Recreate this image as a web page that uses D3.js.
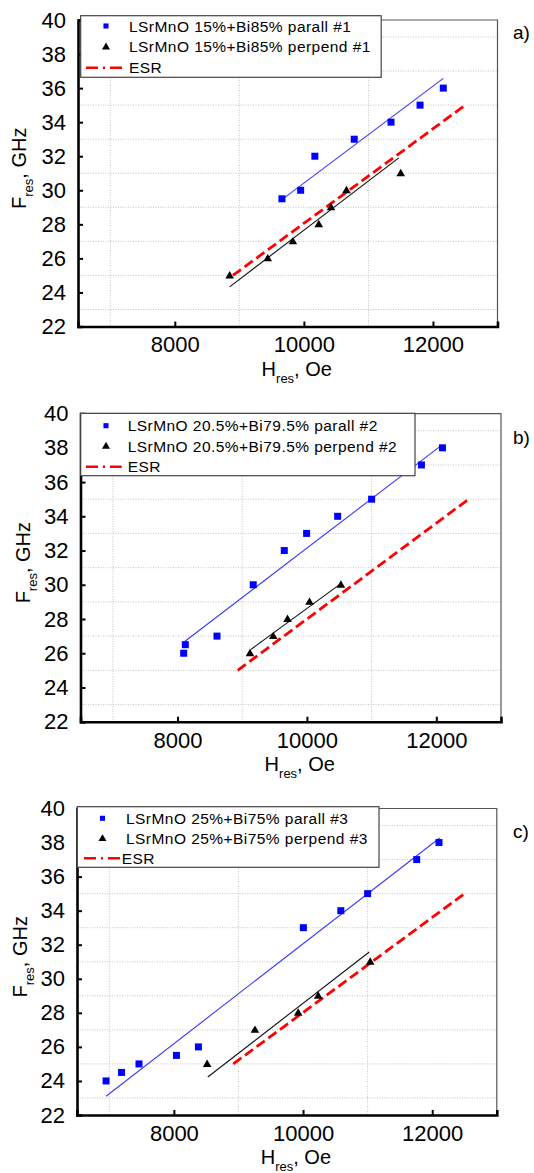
<!DOCTYPE html>
<html>
<head>
<meta charset="utf-8">
<script src="https://cdn.jsdelivr.net/npm/d3@7"></script>
<style>
  html, body { margin: 0; padding: 0; background: #fff; }
  svg { display: block; font-family: "Liberation Sans", Arial, sans-serif; }
</style>
</head>
<body>
<div id="vis"></div>
<script>
// values
let hTicks = [8000, 10000, 12000];
let fTicks = [22, 24, 26, 28, 30, 32, 34, 36, 38, 40];
let hGrid = [7000, 9000, 11000];
let fGrid = [23, 25, 27, 29, 31, 33, 35, 37, 39];

// panel a
let legendA = ['LSrMnO 15%+Bi85% parall #1', 'LSrMnO 15%+Bi85% perpend #1', 'ESR'];
let parA_H = [9660, 9950, 10170, 10780, 11350, 11800, 12160];
let parA_F = [29.5, 30, 32, 33, 34, 35, 36];
let perA_H = [8850, 9440, 9830, 10230, 10420, 10660, 11500];
let perA_F = [25, 26, 27, 28, 29, 30, 31];
let fitParA_H = [9670, 12160], fitParA_F = [29.48, 36.57];
let fitPerA_H = [8850, 11470], fitPerA_F = [24.33, 31.9];
let esrA_H = [8900, 12500], esrA_F = [25, 35];

// panel b
let legendB = ['LSrMnO 20.5%+Bi79.5% parall #2', 'LSrMnO 20.5%+Bi79.5% perpend #2', 'ESR'];
let parB_H = [8095, 8120, 8610, 9170, 9650, 9995, 10475, 11000, 11770, 12095];
let parB_F = [26, 26.5, 27, 30, 32, 33, 34, 35, 37, 38];
let perB_H = [9120, 9480, 9700, 10040, 10525];
let perB_F = [26, 27, 28, 29, 30];
let fitParB_H = [8105, 12095], fitParB_F = [26.67, 38.19];
let fitPerB_H = [9130, 10525], fitPerB_F = [26.21, 30.07];
let esrB_H = [8930, 12500], esrB_F = [25, 35];

// panel c
let legendC = ['LSrMnO 25%+Bi75% parall #3', 'LSrMnO 25%+Bi75% perpend #3', 'ESR'];
let parC_H = [6950, 7190, 7460, 8040, 8380, 10005, 10585, 11000, 11760, 12105];
let parC_F = [24, 24.5, 25, 25.5, 26, 33, 34, 35, 37, 38];
let perC_H = [8515, 9255, 9925, 10235, 11040];
let perC_F = [25, 27, 28, 29, 31];
let fitParC_H = [6950, 12115], fitParC_F = [23.1, 38.27];
let fitPerC_H = [8525, 11025], fitPerC_F = [24.23, 31.57];
let esrC_H = [8920, 12500], esrC_F = [25, 35];

let zip = (xs, ys) => xs.map((x, i) => [x, ys[i]]);

let panels = [
    {letter: 'a)', letterY: 39, top: 20, bottom: 326.5, left: 78, right: 497.5,
     box: [80.7, 15.7, 300.5, 61.6], rows: [26, 46.7, 67.7], markX: 106, esrLine: [86, 122.7], textX: 129, esrTextX: 129,
     titleX: 25.5, legend: legendA,
     par: zip(parA_H, parA_F), per: zip(perA_H, perA_F),
     fitPar: zip(fitParA_H, fitParA_F), fitPer: zip(fitPerA_H, fitPerA_F), esr: zip(esrA_H, esrA_F)},
    {letter: 'b)', letterY: 444, top: 413.6, bottom: 721.7, left: 80.5, right: 501,
     box: [80.7, 413.3, 334.3, 62.4], rows: [425.7, 446, 466.7], markX: 106, esrLine: [86, 121.7], textX: 127.7, esrTextX: 127.7,
     titleX: 29.5, legend: legendB,
     par: zip(parB_H, parB_F), per: zip(perB_H, perB_F),
     fitPar: zip(fitParB_H, fitParB_F), fitPer: zip(fitPerB_H, fitPerB_F), esr: zip(esrB_H, esrB_F)},
    {letter: 'c)', letterY: 838, top: 808.5, bottom: 1115, left: 77, right: 496.8,
     box: [77.3, 806.7, 301.7, 60.6], rows: [818.3, 838.3, 858.3], markX: 102.5, esrLine: [84, 120], textX: 126, esrTextX: 121.7,
     titleX: 27, legend: legendC,
     par: zip(parC_H, parC_F), per: zip(perC_H, perC_F),
     fitPar: zip(fitParC_H, fitParC_F), fitPer: zip(fitPerC_H, fitPerC_F), esr: zip(esrC_H, esrC_F)}
];

let svg = d3.select('#vis')
    .append('svg')
    .attr('width', 534)
    .attr('height', 1173);

let square = d3.symbol().type(d3.symbolSquare).size(49);
let triangle = d3.symbol().type(d3.symbolTriangle).size(32);

function drawPanel(p) {
    let x = d3.scaleLinear().domain([6500, 13000]).range([p.left, p.right]);
    let y = d3.scaleLinear().domain([22, 40]).range([p.bottom, p.top]);
    let g = svg.append('g');

    // dotted grid at the minor positions
    g.selectAll('.vg').data(hGrid).join('line')
        .attr('x1', d => x(d)).attr('x2', d => x(d))
        .attr('y1', p.top).attr('y2', p.bottom)
        .attr('stroke', '#c4c4c4').attr('stroke-width', 1).attr('stroke-dasharray', '1,1.5');
    g.selectAll('.hg').data(fGrid).join('line')
        .attr('y1', d => y(d)).attr('y2', d => y(d))
        .attr('x1', p.left).attr('x2', p.right)
        .attr('stroke', '#c4c4c4').attr('stroke-width', 1).attr('stroke-dasharray', '1,1.5');

    // frame: thin top/right
    g.append('path')
        .attr('d', `M${p.left},${p.top}H${p.right}V${p.bottom}`)
        .attr('fill', 'none').attr('stroke', '#555').attr('stroke-width', 1.2);

    // axes, ticks pointing inwards
    let xAxis = d3.axisBottom(x).tickValues(hTicks).tickSize(-5).tickPadding(10).tickFormat(d3.format('d'));
    let yAxis = d3.axisLeft(y).tickValues(fTicks).tickSize(-5).tickPadding(12).tickFormat(d3.format('d'));
    let gx = g.append('g').attr('transform', `translate(0,${p.bottom})`).call(xAxis);
    let gy = g.append('g').attr('transform', `translate(${p.left},0)`).call(yAxis);
    [gx, gy].forEach(a => {
        a.select('.domain').attr('stroke', '#000').attr('stroke-width', 2.6);
        a.selectAll('.tick line').attr('stroke', '#000').attr('stroke-width', 2);
        a.selectAll('.tick text').attr('fill', '#000')
            .style('font-size', '22px').style('font-family', '"Liberation Sans", Arial, sans-serif');
    });
    gx.selectAll('.tick text').attr('dy', '0.72em');

    // ESR line
    let line = d3.line().x(d => x(d[0])).y(d => y(d[1]));
    g.append('path').datum(p.esr).attr('d', line)
        .attr('fill', 'none').attr('stroke', '#ff0000').attr('stroke-width', 2.8)
        .attr('stroke-dasharray', '10,4.5');

    // fits
    g.append('path').datum(p.fitPar).attr('d', line)
        .attr('fill', 'none').attr('stroke', '#3a3aff').attr('stroke-width', 1.1);
    g.append('path').datum(p.fitPer).attr('d', line)
        .attr('fill', 'none').attr('stroke', '#111').attr('stroke-width', 1.1);

    // points
    g.selectAll('.sq').data(p.par).join('path')
        .attr('d', square)
        .attr('transform', d => `translate(${x(d[0])},${y(d[1])})`)
        .attr('fill', '#0000ff');
    g.selectAll('.tr').data(p.per).join('path')
        .attr('d', triangle)
        .attr('transform', d => `translate(${x(d[0])},${y(d[1]) + 0.5})`)
        .attr('fill', '#000');

    // legend
    let lg = g.append('g');
    lg.append('rect')
        .attr('x', p.box[0]).attr('y', p.box[1]).attr('width', p.box[2]).attr('height', p.box[3])
        .attr('fill', '#fff').attr('stroke', '#444').attr('stroke-width', 1.2);
    lg.append('path').attr('d', d3.symbol().type(d3.symbolSquare).size(26)())
        .attr('transform', `translate(${p.markX},${p.rows[0]})`).attr('fill', '#0000ff');
    lg.append('path').attr('d', d3.symbol().type(d3.symbolTriangle).size(28)())
        .attr('transform', `translate(${p.markX},${p.rows[1] + 0.5})`).attr('fill', '#000');
    lg.append('line')
        .attr('x1', p.esrLine[0]).attr('x2', p.esrLine[1])
        .attr('y1', p.rows[2]).attr('y2', p.rows[2])
        .attr('stroke', '#ff0000').attr('stroke-width', 2.6).attr('stroke-dasharray', '12,5,2,5');
    lg.selectAll('text').data(p.legend).join('text')
        .attr('x', (d, i) => i === 2 ? p.esrTextX : p.textX)
        .attr('y', (d, i) => p.rows[i] + 5.6)
        .style('font-size', '15.5px').style('letter-spacing', '0.45px')
        .attr('fill', '#000')
        .text(d => d);

    // axis titles
    let cy = (p.top + p.bottom) / 2 - 5;
    let yt = g.append('text')
        .attr('transform', `translate(${p.titleX},${cy}) rotate(-90)`)
        .attr('text-anchor', 'middle')
        .style('font-size', '20px').attr('fill', '#000');
    yt.append('tspan').text('F');
    yt.append('tspan').attr('dy', 7).style('font-size', '13px').text('res');
    yt.append('tspan').attr('dy', -7).text(', GHz');

    let cx = (p.left + p.right) / 2 + 9;
    let xt = g.append('text')
        .attr('x', cx).attr('y', p.bottom + 49)
        .attr('text-anchor', 'middle')
        .style('font-size', '20px').attr('fill', '#000');
    xt.append('tspan').text('H');
    xt.append('tspan').attr('dy', 7).style('font-size', '13px').text('res');
    xt.append('tspan').attr('dy', -7).text(', Oe');

    g.append('text')
        .attr('x', 513).attr('y', p.letterY)
        .style('font-size', '19px').attr('fill', '#000')
        .text(p.letter);
}

panels.forEach(drawPanel);
</script>
</body>
</html>
